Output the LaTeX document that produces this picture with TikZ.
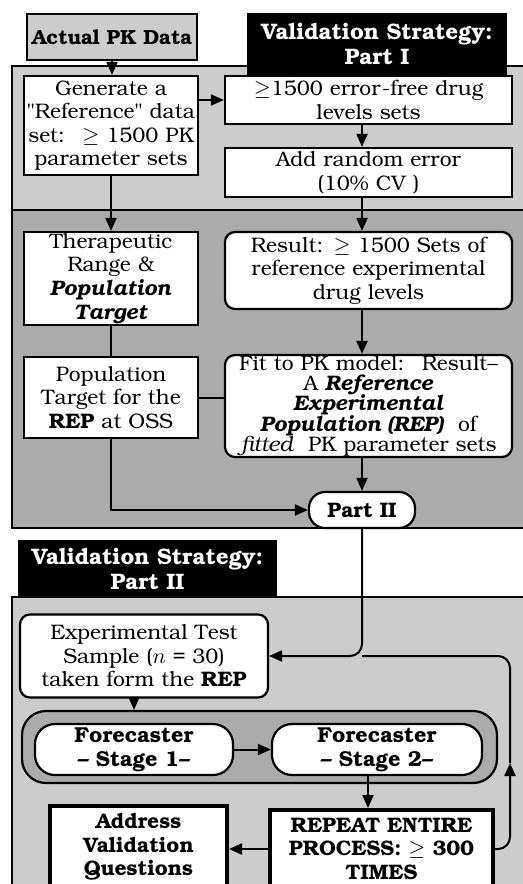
\documentclass[tikz,border=0pt]{standalone}
\usepackage[T1]{fontenc}
\usepackage{bookman}
\usetikzlibrary{arrows.meta}

\definecolor{lightdots}{gray}{0.80}
\definecolor{darkdots}{gray}{0.67}

\begin{document}
\begin{tikzpicture}[x=0.5pt,y=-0.5pt]

\tikzstyle{box} = [rectangle, draw=black, line width=1.1pt, fill=white, inner sep=0pt, align=center, font=\fontsize{10.5}{11.8}\selectfont]
\tikzstyle{rbox} = [box, rounded corners=5pt]
\tikzstyle{heavy} = [box, line width=2pt, font=\fontsize{10.5}{11.8}\selectfont\bfseries]
\tikzstyle{title} = [rectangle, fill=black, text=white, inner sep=0pt, align=center, font=\fontsize{11.2}{12.5}\selectfont\bfseries]
\tikzstyle{panel} = [draw=black, line width=0.6pt]
\tikzstyle{conn} = [line width=1pt, -{Triangle[length=6.5pt,width=5.5pt]}]
\tikzstyle{line} = [line width=1pt]

\useasboundingbox (0,0) rectangle (523,884);
\clip (0,0) rectangle (523,884);

\path[panel, fill=darkdots] (12,66) rectangle (530,528);
\path[panel, fill=lightdots] (12,66) rectangle (530,210);
\path[panel, fill=lightdots] (12,597) rectangle (530,900);

\node[box, fill=lightdots, font=\fontsize{10.2}{11.8}\selectfont\bfseries, text width=85pt, minimum height=23pt] (actual) at (112,37) {Actual PK Data};
\node[title, text width=130pt, minimum height=31pt] (vs1) at (377,44) {Validation Strategy:\\ Part I};

\node[box, text width=87pt, minimum height=49.5pt] (gen) at (111,125.5) {Generate a\\ "Reference" data\\ set:~ $\geq$ 1500 PK\\ parameter sets};
\node[box, text width=143.5pt, minimum height=24pt] (errfree) at (368.5,100) {$\geq$1500 error-free drug\\ levels sets};
\node[box, text width=143.5pt, minimum height=24.5pt] (adderr) at (368.5,172.5) {Add random error\\ (10\% CV )};

\node[box, text width=87pt, minimum height=46.5pt] (thera) at (111,278.5) {Therapeutic\\ Range \&\\ \textbf{\textit{Population}}\\ \textbf{\textit{Target}}};
\node[rbox, text width=143.5pt, minimum height=38.5pt] (result) at (368.5,270.5) {Result: $\geq$ 1500 Sets of\\ reference experimental\\ drug levels};
\node[box, text width=87pt, minimum height=40.5pt] (poptgt) at (111,397.5) {Population\\ Target for the\\ \textbf{REP} at OSS};
\node[rbox, text width=143.5pt, minimum height=51pt, font=\fontsize{10.5}{10.2}\selectfont] (fit) at (368.5,406) {Fit to PK model:~ Result--\\ A \textbf{\textit{Reference}}\\ \textbf{\textit{Experimental}}\\ \textbf{\textit{Population (REP)}}~ of\\ \textit{fitted}~ PK parameter sets};
\node[rbox, rounded corners=8pt, text width=53pt, minimum height=18pt, font=\fontsize{10.5}{11.8}\selectfont\bfseries] (part2) at (362,510) {Part II};

\node[title, text width=129.5pt, minimum height=28.5pt] (vs2) at (147.5,568.5) {Validation Strategy:\\ Part II};

\node[rbox, text width=124pt, minimum height=41.5pt] (exp) at (144,656) {Experimental Test\\ Sample ($n$ = 30)\\ taken form the \textbf{REP}};
\node[rbox, rounded corners=12pt, fill=darkdots, minimum width=237.5pt, minimum height=36pt] (fcbox) at (259.5,747) {};
\node[rbox, rounded corners=10pt, text width=99pt, minimum height=25.5pt, font=\fontsize{10.8}{11.8}\selectfont\bfseries] (st1) at (134,749.5) {Forecaster\\ -- Stage 1--};
\node[rbox, rounded corners=10pt, text width=105pt, minimum height=25.5pt, font=\fontsize{10.8}{11.8}\selectfont\bfseries] (st2) at (377,749.5) {Forecaster\\ -- Stage 2--};

\node[heavy, text width=111.5pt, minimum height=39pt] (repeat) at (381.5,849) {REPEAT ENTIRE\\ PROCESS: $\geq$ 300\\ TIMES};
\node[heavy, text width=88.5pt, minimum height=41pt] (address) at (138.5,847) {Address\\ Validation\\ Questions};

\coordinate (loopup) at (510,763);

\draw[conn] (actual.south) -- (actual.south |- gen.north);
\draw[conn] (gen.east |- errfree.west) -- (errfree.west);
\draw[conn] (errfree.south -| part2) -- (adderr.north -| part2);
\draw[conn] (gen.south) -- (thera.north);
\draw[conn] (adderr.south -| part2) -- (result.north -| part2);
\draw[line] (thera.south) -- (poptgt.north);
\draw[conn] (result.south -| part2) -- (fit.north -| part2);
\draw[line] (poptgt.east) -- (poptgt.east -| fit.west);
\draw[conn] (poptgt.south) |- (part2.west);
\draw[conn] (fit.south -| part2) -- (part2.north);
\draw[conn, rounded corners=6pt] (part2.south) |- (exp.east);
\draw[conn] (exp.south -| st1) -- (fcbox.north -| st1);
\draw[conn] (st1.east) -- (st2.west);
\draw[conn] ([xshift=-4.5pt]st2.south) -- ([xshift=-4.5pt]st2.south |- repeat.north);
\draw[conn] (repeat.west) -- (repeat.west -| address.east);
\draw[conn, rounded corners=6pt] (repeat.east) -| (loopup);
\draw[line, rounded corners=6pt] (loopup) |- (part2.south |- exp.east);

\end{tikzpicture}
\end{document}
